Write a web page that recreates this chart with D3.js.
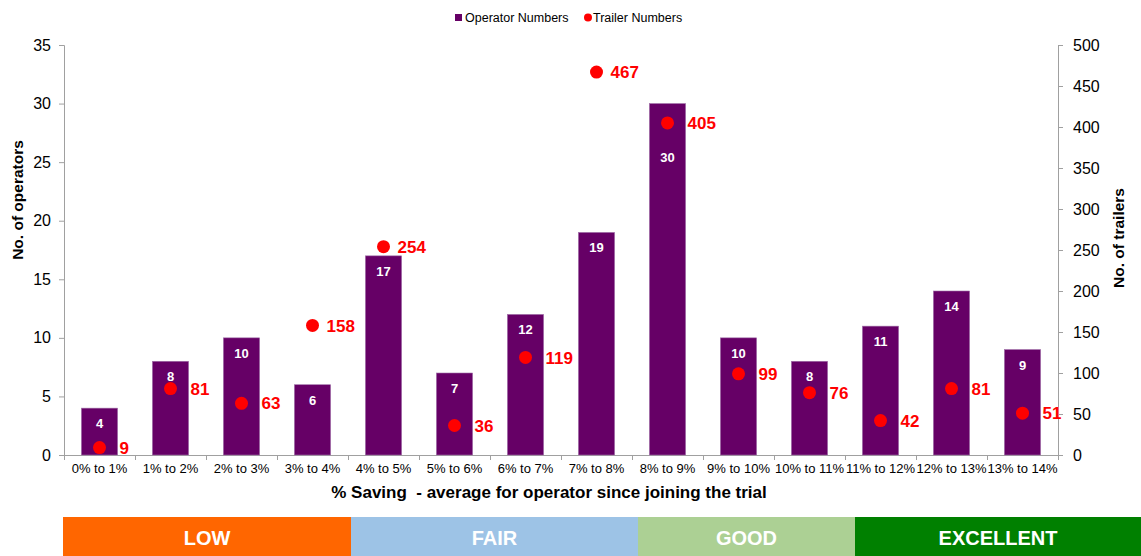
<!DOCTYPE html>
<html>
<head>
<meta charset="utf-8">
<script src="https://cdn.jsdelivr.net/npm/d3@7"></script>
<style>
  html, body { margin: 0; padding: 0; background: #fff; }
  svg { display: block; font-family: "Liberation Sans", Arial, sans-serif; }
</style>
</head>
<body>
<svg id="chart" width="1141" height="556"></svg>
<script>
// Savings bands and how many operators / trailers fall in each
const categories = ["0% to 1%", "1% to 2%", "2% to 3%", "3% to 4%", "4% to 5%", "5% to 6%", "6% to 7%",
                    "7% to 8%", "8% to 9%", "9% to 10%", "10% to 11%", "11% to 12%", "12% to 13%", "13% to 14%"];
const operatorNumbers = [4, 8, 10, 6, 17, 7, 12, 19, 30, 10, 8, 11, 14, 9];
const trailerNumbers = [9, 81, 63, 158, 254, 36, 119, 467, 405, 99, 76, 42, 81, 51];
const leftTicks = [0, 5, 10, 15, 20, 25, 30, 35];
const rightTicks = [0, 50, 100, 150, 200, 250, 300, 350, 400, 450, 500];
const ratingBands = ["LOW", "FAIR", "GOOD", "EXCELLENT"];

const purple = "#660066", red = "#ff0000", axisGrey = "#a0a0a0";
const bandColours = ["#ff6600", "#9dc3e6", "#acd094", "#008000"];

const svg = d3.select("#chart");
const plot = { left: 64, right: 1058, top: 45, bottom: 455 };

const x = d3.scaleBand().domain(categories).range([plot.left, plot.right]).paddingInner(0.49).paddingOuter(0.245);
const xEdge = d3.scaleLinear().domain([0, categories.length]).range([plot.left, plot.right]);
const yL = d3.scaleLinear().domain([0, 35]).range([plot.bottom, plot.top]);
const yR = d3.scaleLinear().domain([0, 500]).range([plot.bottom, plot.top]);
const cx = i => x(categories[i]) + x.bandwidth() / 2;

// Left axis
const gL = svg.append("g").attr("transform", `translate(${plot.left},0)`)
  .call(d3.axisLeft(yL).tickValues(leftTicks).tickSize(5).tickPadding(8));
gL.selectAll("text").attr("font-size", 16).attr("fill", "#000").attr("font-family", "Liberation Sans, Arial, sans-serif");

// Right axis
const gR = svg.append("g").attr("transform", `translate(${plot.right},0)`)
  .call(d3.axisRight(yR).tickValues(rightTicks).tickSize(5).tickPadding(10));
gR.selectAll("text").attr("font-size", 16).attr("fill", "#000").attr("font-family", "Liberation Sans, Arial, sans-serif");

[gL, gR].forEach(g => {
  g.select(".domain").attr("stroke", axisGrey);
  g.selectAll(".tick line").attr("stroke", axisGrey);
});

// Bottom axis: line, boundary ticks, category labels
svg.append("line").attr("x1", plot.left).attr("x2", plot.right)
  .attr("y1", plot.bottom + 0.5).attr("y2", plot.bottom + 0.5).attr("stroke", axisGrey);
svg.append("g").selectAll("line").data(d3.range(categories.length + 1)).join("line")
  .attr("x1", i => Math.round(xEdge(i)) + 0.5).attr("x2", i => Math.round(xEdge(i)) + 0.5)
  .attr("y1", plot.bottom).attr("y2", plot.bottom + 5).attr("stroke", axisGrey);
svg.append("g").selectAll("text").data(categories).join("text")
  .attr("x", d => x(d) + x.bandwidth() / 2).attr("y", plot.bottom + 18)
  .attr("text-anchor", "middle").attr("font-size", 13).attr("fill", "#000").text(d => d);

// Bars
svg.append("g").selectAll("rect").data(operatorNumbers).join("rect")
  .attr("x", (d, i) => x(categories[i])).attr("width", x.bandwidth())
  .attr("y", d => yL(d)).attr("height", d => yL(0) - yL(d))
  .attr("fill", purple).attr("stroke", "#a070a8").attr("stroke-width", 0.6);

// Bar value labels (inside end; pushed below a trailer marker sitting on them)
svg.append("g").selectAll("text").data(operatorNumbers).join("text")
  .attr("x", (d, i) => cx(i))
  .attr("y", (d, i) => {
    let ly = yL(d) + 15.5;
    const dy = yR(trailerNumbers[i]);
    if (Math.abs(dy - ly) < 8) ly = dy + 35;
    return ly;
  })
  .attr("dy", "0.35em").attr("text-anchor", "middle")
  .attr("font-size", 13).attr("font-weight", "bold").attr("fill", "#fff").text(d => d);

// Trailer markers and labels (labels clear the bar when the marker sits inside it)
svg.append("g").selectAll("circle").data(trailerNumbers).join("circle")
  .attr("cx", (d, i) => cx(i)).attr("cy", d => yR(d))
  .attr("r", 6.5).attr("fill", red);
svg.append("g").selectAll("text").data(trailerNumbers).join("text")
  .attr("x", (d, i) => yR(d) > yL(operatorNumbers[i]) ? x(categories[i]) + x.bandwidth() + 2 : cx(i) + 14)
  .attr("y", d => yR(d))
  .attr("dy", "0.36em").attr("font-size", 17).attr("font-weight", "bold").attr("fill", red).text(d => d);

// Axis titles
svg.append("text").attr("transform", "translate(23,200) rotate(-90)")
  .attr("text-anchor", "middle").attr("font-size", 15.5).attr("font-weight", "bold").text("No. of operators");
svg.append("text").attr("transform", "translate(1124,238) rotate(-90)")
  .attr("text-anchor", "middle").attr("font-size", 15.5).attr("font-weight", "bold").text("No. of trailers");
svg.append("text").attr("x", 549).attr("y", 498).attr("text-anchor", "middle")
  .attr("font-size", 17).attr("font-weight", "bold").attr("xml:space", "preserve")
  .text("% Saving  - average for operator since joining the trial");

// Legend
const lg = svg.append("g");
lg.append("rect").attr("x", 455).attr("y", 14).attr("width", 7).attr("height", 7).attr("fill", purple);
lg.append("text").attr("x", 465).attr("y", 18).attr("dy", "0.35em").attr("font-size", 12.5).text("Operator Numbers");
lg.append("circle").attr("cx", 588).attr("cy", 17.5).attr("r", 4).attr("fill", red);
lg.append("text").attr("x", 593).attr("y", 18).attr("dy", "0.35em").attr("font-size", 12.5).text("Trailer Numbers");

// Rating bands along the bottom of the page
const bandStops = [63, 351, 638, 855, 1141];
const bands = svg.append("g");
ratingBands.forEach((name, i) => {
  const x0 = bandStops[i], x1 = bandStops[i + 1];
  bands.append("rect").attr("x", x0).attr("y", 517).attr("width", x1 - x0).attr("height", 39).attr("fill", bandColours[i]);
  bands.append("text").attr("x", (x0 + x1) / 2).attr("y", 538).attr("dy", "0.36em")
    .attr("text-anchor", "middle").attr("font-size", 20).attr("font-weight", "bold").attr("fill", "#fff").text(name);
});
</script>
</body>
</html>
